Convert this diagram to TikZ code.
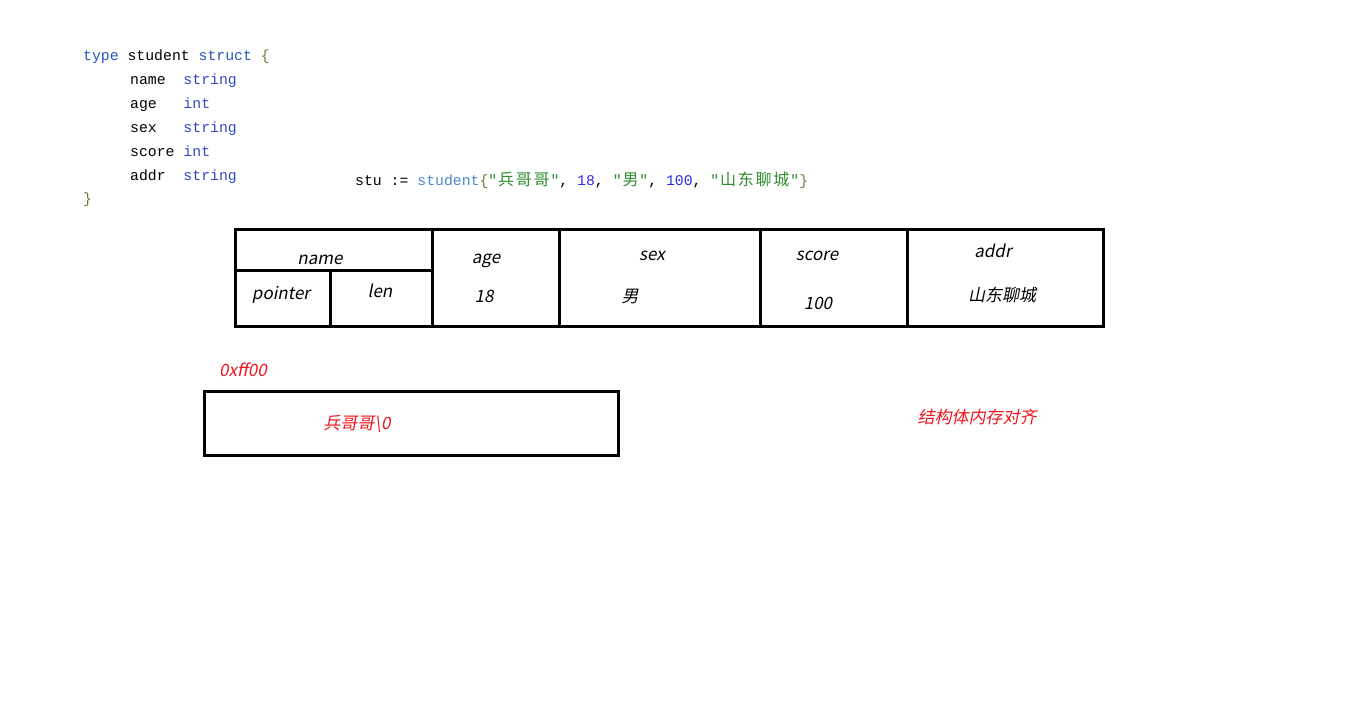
\documentclass[tikz,border=0pt]{standalone}
\usepackage{fontspec}
\setmonofont{Liberation Mono}
\newfontfamily\cjkmono{Noto Sans CJK SC}
\newfontfamily\labelfont[FakeSlant=0.2]{Noto Sans CJK SC}
\usepackage{xcolor}
\definecolor{kwblue}{HTML}{2455C0}
\definecolor{typeblue}{HTML}{3346C8}
\definecolor{callblue}{HTML}{4A86CC}
\definecolor{bracegreen}{HTML}{6E7A3A}
\definecolor{strgreen}{HTML}{2E8B2E}
\definecolor{numblue}{HTML}{2A2AE6}
\definecolor{memred}{HTML}{F0141E}
% one CJK glyph takes two columns of the code font
\newcommand\cjcol[1]{\makebox[17.76pt]{\cjkmono\fontsize{16}{18}\selectfont #1}}
\tikzset{codeline/.style={anchor=base west, inner sep=0pt, font=\ttfamily\fontsize{14.8}{18}\selectfont}}
\tikzset{cell/.style={inner sep=0pt, font=\labelfont\fontsize{17}{20}\selectfont}}
\tikzset{memlabel/.style={cell, text=memred}}
\tikzset{frame/.style={draw, line width=3pt}}

\begin{document}
\begin{tikzpicture}[x=1pt, y=-1pt]
	\useasboundingbox (0,0) rectangle (1360,705);

	% CODE
	\node[codeline] (decl) at (83,60) {\textcolor{kwblue}{type} student \textcolor{kwblue}{struct} \textcolor{bracegreen}{\{}};
	\node[codeline] (fname) at (130,84) {name~~\textcolor{typeblue}{string}};
	\node[codeline] (fage) at (130,108) {age~~~\textcolor{typeblue}{int}};
	\node[codeline] (fsex) at (130,132) {sex~~~\textcolor{typeblue}{string}};
	\node[codeline] (fscore) at (130,156) {score \textcolor{typeblue}{int}};
	\node[codeline] (faddr) at (130,180) {addr~~\textcolor{typeblue}{string}};
	\node[codeline] (declend) at (83,203) {\textcolor{bracegreen}{\}}};

	\node[codeline] (init) at (355,185) {stu := \textcolor{callblue}{student}\textcolor{bracegreen}{\{}\textcolor{strgreen}{"\cjcol{兵}\cjcol{哥}\cjcol{哥}"}, \textcolor{numblue}{18}, \textcolor{strgreen}{"\cjcol{男}"}, \textcolor{numblue}{100}, \textcolor{strgreen}{"\cjcol{山}\cjcol{东}\cjcol{聊}\cjcol{城}"}\textcolor{bracegreen}{\}}};

	% STRUCT
	\coordinate (tl) at (235,229);		\coordinate (br) at (1103,326);
	\coordinate (nameleft) at (235,270);	\coordinate (nameright) at (432,270);
	\coordinate (lentop) at (330,270);	\coordinate (lenbottom) at (330,326);

	\draw[frame] (tl) rectangle (br);
	\foreach \xdiv in {432, 559, 760, 907}
		\draw[frame] (\xdiv,229) -- (\xdiv,326);
	\draw[frame] (nameleft) -- (nameright);
	\draw[frame] (lentop) -- (lenbottom);

	\node[cell] (name) at (320,260) {name};
	\node[cell] (age) at (486,261) {age};
	\node[cell] (sex) at (652,256) {sex};
	\node[cell] (score) at (817,256) {score};
	\node[cell] (addr) at (993,251) {addr};
	\node[cell] (pointer) at (281,295) {pointer};
	\node[cell] (len) at (380,291) {len};
	\node[cell] (agev) at (484,296) {18};
	\node[cell] (sexv) at (630,296) {男};
	\node[cell] (scorev) at (818,303) {100};
	\node[cell] (addrv) at (1002,295) {山东聊城};

	% MEMORY
	\node[memlabel] (address) at (243,370) {0xff00};
	\draw[frame] (204,391) rectangle (618,455);
	\node[memlabel] (bytes) at (357,424) {兵哥哥\textbackslash 0};
	\node[memlabel] (note) at (977,417) {结构体内存对齐};
\end{tikzpicture}
\end{document}
